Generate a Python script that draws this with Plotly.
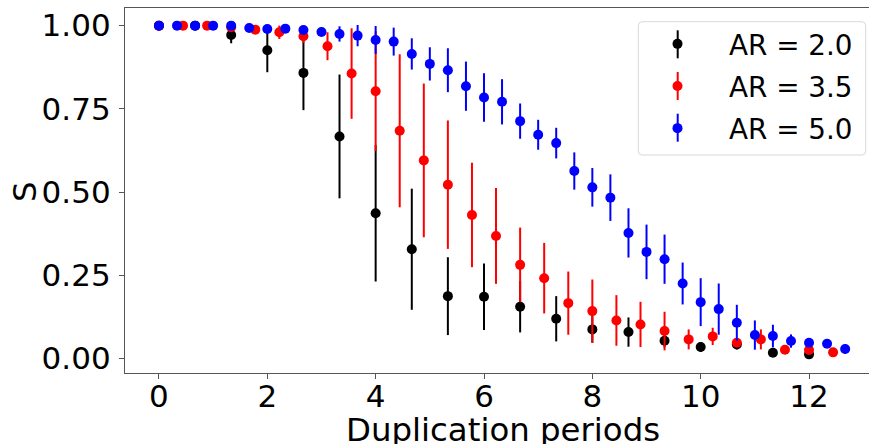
import plotly.graph_objects as go

# ---- data ----
x_ar20 = [0.0, 0.667, 1.333, 2.0, 2.667, 3.333, 4.0, 4.667, 5.333, 6.0, 6.667,
          7.333, 8.0, 8.667, 9.333, 10.0, 10.667, 11.333, 12.0]
y_ar20 = [1.0, 1.0, 0.972, 0.926, 0.858, 0.667, 0.436, 0.328, 0.187, 0.185, 0.155,
          0.119, 0.087, 0.079, 0.053, 0.034, 0.042, 0.017, 0.012]
e_ar20 = [0.0, 0.0, 0.025, 0.066, 0.112, 0.186, 0.205, 0.182, 0.117, 0.100, 0.077,
          0.068, 0.040, 0.044, 0.020, 0.015, 0.015, 0.005, 0.008]

x_ar35 = [0.0, 0.444, 0.889, 1.333, 1.778, 2.222, 2.667, 3.111, 3.556, 4.0, 4.444,
          4.889, 5.333, 5.778, 6.222, 6.667, 7.111, 7.556, 8.0, 8.444, 8.889,
          9.333, 9.778, 10.222, 10.667, 11.111, 11.556, 12.0, 12.444]
y_ar35 = [1.0, 1.0, 1.0, 0.995, 0.988, 0.980, 0.968, 0.938, 0.856, 0.803, 0.684,
          0.595, 0.522, 0.431, 0.368, 0.281, 0.241, 0.166, 0.142, 0.114, 0.102,
          0.082, 0.057, 0.066, 0.047, 0.057, 0.026, 0.025, 0.018]
e_ar35 = [0.0, 0.0, 0.0, 0.004, 0.010, 0.020, 0.020, 0.042, 0.136, 0.180, 0.230,
          0.231, 0.193, 0.157, 0.144, 0.112, 0.106, 0.095, 0.095, 0.076, 0.068,
          0.058, 0.030, 0.026, 0.012, 0.030, 0.010, 0.006, 0.004]

x_ar50 = [0.0, 0.333, 0.667, 1.0, 1.333, 1.667, 2.0, 2.333, 2.667, 3.0, 3.333,
          3.667, 4.0, 4.333, 4.667, 5.0, 5.333, 5.667, 6.0, 6.333, 6.667, 7.0,
          7.333, 7.667, 8.0, 8.333, 8.667, 9.0, 9.333, 9.667, 10.0, 10.333,
          10.667, 11.0, 11.333, 11.667, 12.0, 12.333, 12.667]
y_ar50 = [1.0, 1.0, 1.0, 1.0, 1.0, 0.993, 0.990, 0.991, 0.987, 0.981, 0.975,
          0.970, 0.957, 0.952, 0.915, 0.885, 0.866, 0.818, 0.784, 0.771, 0.713,
          0.672, 0.647, 0.563, 0.514, 0.483, 0.377, 0.320, 0.298, 0.225, 0.169,
          0.148, 0.107, 0.070, 0.067, 0.052, 0.047, 0.044, 0.028]
e_ar50 = [0.0, 0.0, 0.0, 0.0, 0.0, 0.003, 0.005, 0.005, 0.008, 0.012, 0.023,
          0.032, 0.042, 0.042, 0.047, 0.050, 0.066, 0.074, 0.073, 0.068, 0.053,
          0.045, 0.046, 0.056, 0.058, 0.070, 0.074, 0.082, 0.074, 0.063, 0.072,
          0.077, 0.054, 0.044, 0.034, 0.020, 0.008, 0.006, 0.014]

series_names = ["AR = 2.0", "AR = 3.5", "AR = 5.0"]
series_colors = ["#000000", "#ff0000", "#0000ff"]

x_ticks = [0, 2, 4, 6, 8, 10, 12]
y_ticks = [0.0, 0.25, 0.5, 0.75, 1.0]

FONT = "DejaVu Sans"
W, H = 869, 444
ML, MR, MT, MB = 125, 0, 8, 71
PW, PH = W - ML - MR, H - MT - MB


def px(xp):
    return (xp - ML) / PW


def py(yp):
    return (H - MB - yp) / PH


fig = go.Figure()
for xs, ys, es, name, col in zip([x_ar20, x_ar35, x_ar50], [y_ar20, y_ar35, y_ar50],
                                 [e_ar20, e_ar35, e_ar50], series_names, series_colors):
    fig.add_trace(go.Scatter(
        x=xs, y=ys, mode="markers", name=name,
        marker=dict(color=col, size=10, line=dict(width=0)),
        error_y=dict(type="data", array=es, visible=True, color=col,
                     thickness=2, width=0),
        legendgroup=name,
    ))

axcol = "#555555"
TICKSIZE = 31
LEG_LEFT = 626
fig.update_layout(
    width=W, height=H,
    margin=dict(l=ML, r=MR, t=MT, b=MB, pad=0),
    paper_bgcolor="white", plot_bgcolor="white",
    font=dict(family=FONT, size=TICKSIZE, color="black"),
    showlegend=True,
    legend=dict(
        x=px(LEG_LEFT), y=py(19.3),
        xanchor="left", yanchor="top",
        bgcolor="rgba(0,0,0,0)", borderwidth=0,
        font=dict(family=FONT, size=27.8, color="black"),
        itemwidth=93, tracegroupgap=3,
    ),
    xaxis=dict(
        range=[-0.627, 13.107], tickvals=x_ticks, ticktext=[str(v) for v in x_ticks],
        showgrid=False, zeroline=False, showline=True, linecolor=axcol, linewidth=1.3,
        mirror=True, ticks="outside", ticklen=5, tickwidth=1.3, tickcolor=axcol,
        tickfont=dict(family=FONT, size=TICKSIZE, color="black"),
        ticklabelstandoff=-9,
    ),
    yaxis=dict(
        range=[-0.044, 1.053], tickvals=y_ticks, ticktext=[f"{v:.2f}" for v in y_ticks],
        showgrid=False, zeroline=False, showline=True, linecolor=axcol, linewidth=1.3,
        mirror=False, ticks="outside", ticklen=5, tickwidth=1.3, tickcolor=axcol,
        tickfont=dict(family=FONT, size=TICKSIZE, color="black"),
        ticklabelstandoff=2,
    ),
)

# legend frame (rounded) and error-bar strokes for the legend symbols
x0, x1, y0, y1, r = 638.3, 865.7, 21.7, 155.0, 4
frame = (f"M {px(x0 + r)},{py(y0)} L {px(x1 - r)},{py(y0)} "
         f"Q {px(x1)},{py(y0)} {px(x1)},{py(y0 + r)} L {px(x1)},{py(y1 - r)} "
         f"Q {px(x1)},{py(y1)} {px(x1 - r)},{py(y1)} L {px(x0 + r)},{py(y1)} "
         f"Q {px(x0)},{py(y1)} {px(x0)},{py(y1 - r)} L {px(x0)},{py(y0 + r)} "
         f"Q {px(x0)},{py(y0)} {px(x0 + r)},{py(y0)} Z")
fig.add_shape(type="path", path=frame, xref="paper", yref="paper",
              line=dict(color="#d9d9d9", width=1), fillcolor="rgba(255,255,255,0.8)",
              layer="below")
for yc, col in zip([44.3, 86.0, 127.7], series_colors):
    fig.add_shape(type="line", xref="paper", yref="paper",
                  x0=px(677.7), x1=px(677.7), y0=py(yc - 14), y1=py(yc + 14),
                  line=dict(color=col, width=2), layer="below")

fig.add_annotation(text="Duplication periods", xref="paper", yref="paper",
                   x=px(503), y=py(430), showarrow=False,
                   xanchor="center", yanchor="middle",
                   font=dict(family=FONT, size=32.4, color="black"))
fig.add_annotation(text="S", xref="paper", yref="paper",
                   x=px(25), y=py(192), showarrow=False,
                   textangle=-90, xanchor="center", yanchor="middle",
                   font=dict(family=FONT, size=32.4, color="black"))

fig.write_html("out.html")
